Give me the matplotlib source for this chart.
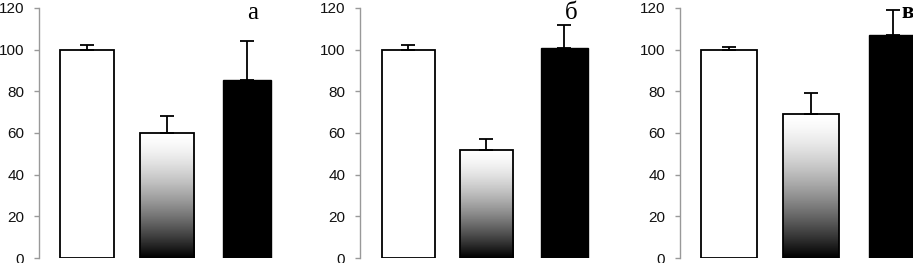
import numpy as np
import matplotlib
matplotlib.use("Agg")
import matplotlib.pyplot as plt

# ---- data ----
groups = ["control", "treatment 1", "treatment 2"]
panel_labels = ["а", "б", "в"]
means_a = [100, 60, 85.5]
errs_a = [2, 8, 18.5]
means_b = [100, 52, 101]
errs_b = [2, 5, 11]
means_c = [100, 69, 107]
errs_c = [1.5, 10, 12]
yticks = [0, 20, 40, 60, 80, 100, 120]

W, H = 913, 263
fig = plt.figure(figsize=(W / 100, H / 100), dpi=100)
plt.rcParams["font.family"] = ["Liberation Sans", "DejaVu Sans"]

# (means, errs, left px, bar spacing px, xlim, label x, label y, ha, weight, size)
panels = [
    (means_a, errs_a, 39, 80, (-0.6, 2.6), 2.075, 114.7, "center", "normal", 18),
    (means_b, errs_b, 360, 78, (-0.62, 2.6), 2.085, 114.5, "center", "normal", 18),
    (means_c, errs_c, 680, 82, (-0.6, 2.24), 2.095, 115, "left", "bold", 16.5),
]

bottom_px, top_px = 258, 8
grad = 1 - np.linspace(0, 1, 256) ** 1.5
grad = grad[:, None]

for i, (means, errs, left, spacing, xlim, lx, ly, ha, weight, size) in enumerate(panels):
    span = xlim[1] - xlim[0]
    width_px = span * spacing
    ax = fig.add_axes([left / W, (H - bottom_px) / H, width_px / W, (bottom_px - top_px) / H])
    x = np.arange(len(means))
    widths = [0.68, 0.68, 0.6]
    # white bar
    ax.bar(x[0], means[0], width=widths[0], color="white", edgecolor="black", linewidth=1.3, zorder=2)
    # gradient bar
    ax.bar(x[1], means[1], width=widths[1], color="none", edgecolor="black", linewidth=1.3, zorder=3)
    ax.imshow(grad, cmap="gray", vmin=0, vmax=1, aspect="auto",
              extent=[x[1] - widths[1] / 2, x[1] + widths[1] / 2, 0, means[1]], zorder=2)
    # black bar
    ax.bar(x[2], means[2], width=widths[2], color="black", edgecolor="black", linewidth=1.0, zorder=2)
    ax.set_xlim(*xlim)
    ax.set_ylim(0, 120)
    ax.errorbar(x, means, yerr=[np.zeros(len(errs)), errs], fmt="none", ecolor="black",
                elinewidth=1.3, capsize=5, capthick=1.3, zorder=4)
    for s in ["top", "right", "bottom"]:
        ax.spines[s].set_visible(False)
    ax.spines["left"].set_color("#999999")
    ax.spines["left"].set_linewidth(1.0)
    ax.set_xticks([])
    ax.set_yticks(yticks)
    ax.tick_params(axis="y", length=3.6, width=1.0, color="#999999", pad=7, labelsize=11,
                   labelcolor="#111111")
    ax.patch.set_visible(False)
    ax.text(lx, ly, panel_labels[i], family=["Liberation Serif", "DejaVu Serif"],
            fontsize=size, fontweight=weight, ha=ha, va="baseline", clip_on=False, zorder=5)

fig.savefig("out.png", dpi=100)
